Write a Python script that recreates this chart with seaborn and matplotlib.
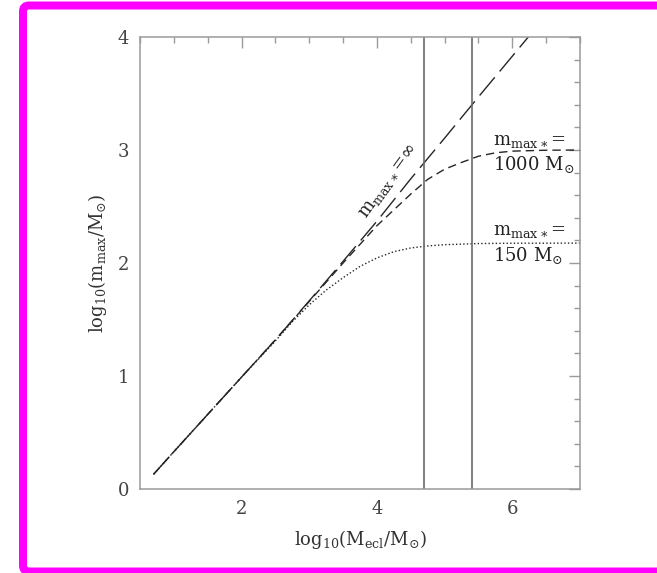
import matplotlib
matplotlib.use("Agg")
import numpy as np
import pandas as pd
import seaborn as sns
import matplotlib.pyplot as plt
from matplotlib.ticker import MultipleLocator
from matplotlib.patches import FancyBboxPatch
from matplotlib.transforms import IdentityTransform

# log10(M_ecl / Msun) and log10(m_max / Msun) for three upper stellar mass limits
x_inf = [0.7, 1.0, 1.5, 2.0, 2.5, 3.0, 3.5, 4.0, 4.5, 5.0, 5.5, 6.0, 6.25]
y_inf = [0.13, 0.33, 0.66, 0.99, 1.32, 1.665, 2.015, 2.37, 2.745, 3.105, 3.47, 3.83, 4.01]

x_1000 = [0.7, 1.0, 1.5, 2.0, 2.5, 3.0, 3.5, 4.0, 4.25, 4.5, 4.75, 5.0, 5.25, 5.5, 5.75, 6.0, 6.5, 7.0]
y_1000 = [0.13, 0.33, 0.66, 0.99, 1.32, 1.66, 2.0, 2.33, 2.47, 2.61, 2.74, 2.83, 2.89, 2.945, 2.975, 2.99, 2.998, 3.0]

x_150 = [0.7, 1.0, 1.5, 2.0, 2.5, 2.75, 3.0, 3.25, 3.5, 3.75, 4.0, 4.25, 4.5, 4.75, 5.0, 5.5, 6.0, 7.0]
y_150 = [0.13, 0.33, 0.66, 0.99, 1.31, 1.48, 1.63, 1.76, 1.87, 1.97, 2.045, 2.1, 2.133, 2.151, 2.162, 2.172, 2.175, 2.176]

# cluster masses marked by vertical lines
vlines = [4.7, 5.4]

series = {
    "inf": (x_inf, y_inf, (0, (17, 5.5))),
    "1000": (x_1000, y_1000, (0, (6, 3.6))),
    "150": (x_150, y_150, (0, (1.0, 1.6))),
}

frames = []
for name, (xs, ys, _) in series.items():
    frames.append(pd.DataFrame({"logM": xs, "logm": ys, "limit": name}))
df = pd.concat(frames, ignore_index=True)

sns.set_theme(style="white")
plt.rcParams["font.family"] = ["DejaVu Serif"]
plt.rcParams["mathtext.fontset"] = "dejavuserif"
plt.rcParams["lines.scale_dashes"] = False

fig = plt.figure(figsize=(6.57, 5.73), dpi=100)
fig.patch.set_facecolor("white")
ax = fig.add_axes([140 / 657, 1 - 489 / 573, 440 / 657, 452 / 573])

line_color = "#262626"
for name, (_, _, ls) in series.items():
    sub = df[df["limit"] == name]
    sns.lineplot(data=sub, x="logM", y="logm", ax=ax, color=line_color,
                 linewidth=1.0, linestyle=ls, estimator=None, sort=False,
                 legend=False)

for v in vlines:
    ax.axvline(v, color="#6a6a6a", linewidth=1.2)

ax.set_xlim(0.5, 7.0)
ax.set_ylim(0.0, 4.0)
ax.xaxis.set_major_locator(MultipleLocator(2))
ax.xaxis.set_minor_locator(MultipleLocator(0.5))
ax.yaxis.set_major_locator(MultipleLocator(1))
ax.yaxis.set_minor_locator(MultipleLocator(0.2))

spine_color = "#9a9a9a"
for s in ax.spines.values():
    s.set_color(spine_color)
    s.set_linewidth(1.1)
ax.tick_params(which="both", direction="in", top=True, right=True,
               color=spine_color, width=1.0, labelsize=13,
               labelcolor="#444444")
ax.tick_params(which="major", length=8, pad=8)
ax.tick_params(which="minor", length=4)

ax.set_xlabel(r"log$_{10}$(M$_{\rm ecl}$/M$_{\odot}$)", fontsize=13,
              color="#333333", labelpad=7)
ax.set_ylabel(r"log$_{10}$(m$_{\rm max}$/M$_{\odot}$)", fontsize=13,
              color="#333333", labelpad=6)
ax.grid(False)

txt_color = "#222222"
fs = 13
ax.text(4.17, 2.72, r"m$_{\rm max\ast}$=$\infty$", rotation=54,
        rotation_mode="anchor", ha="center", va="center", fontsize=fs,
        color=txt_color)
ax.text(5.72, 3.04, r"m$_{\rm max\ast}$=", ha="left", va="baseline",
        fontsize=fs, color=txt_color)
ax.text(5.72, 2.82, r"1000 M$_{\odot}$", ha="left", va="baseline",
        fontsize=fs, color=txt_color)
ax.text(5.72, 2.25, r"m$_{\rm max\ast}$=", ha="left", va="baseline",
        fontsize=fs, color=txt_color)
ax.text(5.72, 2.015, r"150 M$_{\odot}$", ha="left", va="baseline",
        fontsize=fs, color=txt_color)

# magenta frame around the figure
frame = FancyBboxPatch((23, 1.5), 700, 566,
                       boxstyle="round,pad=0,rounding_size=6",
                       linewidth=8 * 0.72, edgecolor="#ff00ff",
                       facecolor="none", transform=IdentityTransform())
fig.patches.append(frame)

fig.savefig("out.png", dpi=100)
